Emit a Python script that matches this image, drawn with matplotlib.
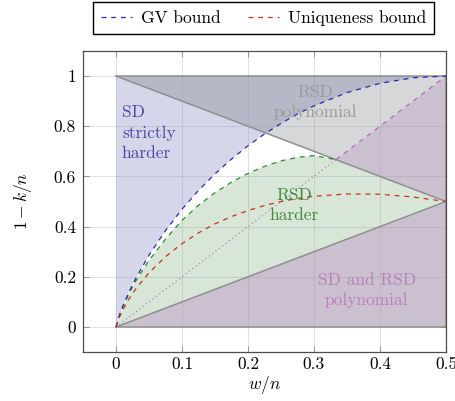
import numpy as np
import matplotlib
matplotlib.use("Agg")
import matplotlib.pyplot as plt
from matplotlib.patches import Polygon

plt.rcParams['font.family'] = ['cmr10', 'DejaVu Serif']
plt.rcParams['mathtext.fontset'] = 'cm'
plt.rcParams['axes.unicode_minus'] = False
plt.rcParams['axes.formatter.use_mathtext'] = True
plt.rcParams['font.size'] = 12.5
plt.rcParams['lines.scale_dashes'] = False

# curves (x = w/n, y = 1 - k/n)
w_n = [0, 0.005, 0.01, 0.02, 0.03, 0.05, 0.075, 0.1, 0.125, 0.15, 0.175,
       0.2, 0.225, 0.25, 0.275, 0.3, 0.35, 0.4, 0.45, 0.5]
gv_bound = [0, 0.045, 0.081, 0.141, 0.194, 0.286, 0.384, 0.469, 0.544, 0.610,
            0.669, 0.722, 0.769, 0.811, 0.849, 0.881, 0.934, 0.971, 0.993, 1.0]
uniq_bound = [0, 0.038, 0.066, 0.113, 0.152, 0.216, 0.280, 0.332, 0.375, 0.411,
              0.440, 0.464, 0.484, 0.500, 0.512, 0.521, 0.530, 0.529, 0.518, 0.5]
rsd_x = [0, 0.005, 0.01, 0.02, 0.03, 0.05, 0.075, 0.1, 0.125, 0.15, 0.175,
         0.2, 0.225, 0.25, 0.275, 0.3, 0.333]
rsd_y = [0, 0.044, 0.078, 0.135, 0.184, 0.265, 0.350, 0.425, 0.485, 0.535, 0.577,
         0.612, 0.640, 0.662, 0.676, 0.683, 0.667]

# region corners
sd_poly_tri = [(0, 0), (0.5, 0), (0.5, 0.5)]
sd_poly_tri2 = [(1/3, 2/3), (0.5, 1), (0.5, 0.5)]
rsd_poly_tri = [(0, 1), (0.5, 1), (1/3, 2/3)]

c_blue = '#d5d6ea'
c_dark = '#b6b8c8'
c_gray = '#d6d7d9'
c_green = '#d8e6d8'
c_purple = '#cbc0d0'

fig = plt.figure(figsize=(4.56, 4.01), dpi=100)
ax = fig.add_axes([0.182, 0.122, 0.796, 0.751])

# blue: above GV bound
blue_pts = list(zip(w_n, gv_bound)) + [(0, 1)]
ax.add_patch(Polygon(blue_pts, closed=True, fc=c_blue, ec='none', zorder=1))
ax.add_patch(Polygon(rsd_poly_tri, closed=True, fc=c_gray, ec='none', zorder=2))
dark = Polygon(blue_pts, closed=True, fc=c_dark, ec='none', zorder=3)
ax.add_patch(dark)
dark.set_clip_path(Polygon(rsd_poly_tri, closed=True, transform=ax.transData))

green_pts = list(zip(rsd_x, rsd_y)) + [(0.5, 0.5)]
ax.add_patch(Polygon(green_pts, closed=True, fc=c_green, ec='none', zorder=2))
ax.add_patch(Polygon(sd_poly_tri, closed=True, fc=c_purple, ec='none', zorder=2))
ax.add_patch(Polygon(sd_poly_tri2, closed=True, fc=c_purple, ec='none', zorder=2))

# grid
for xv in [0, 0.1, 0.2, 0.3, 0.4, 0.5]:
    ax.axvline(xv, color='0.6', lw=0.6, alpha=0.35, zorder=4)
for yv in [0, 0.2, 0.4, 0.6, 0.8, 1]:
    ax.axhline(yv, color='0.6', lw=0.6, alpha=0.35, zorder=4)

# boundaries
gl = dict(color='#8f8f8f', lw=1.1, zorder=5)
ax.plot([0, 0.5], [1, 1], **gl)
ax.plot([0, 0.5], [0, 0], **gl)
ax.plot([0, 0.5], [1, 0.5], **gl)
ax.plot([0, 0.5], [0, 0.5], **gl)
ax.plot([0.5, 0.5], [0, 1], **gl)

ax.plot([0, 1/3], [0, 2/3], color='#b080c0', lw=0.8, dashes=(1, 2), zorder=6)
ax.plot([1/3, 0.5], [2/3, 1], color='#b060c0', lw=0.8, dashes=(3.5, 3.5), zorder=6)
ax.plot(rsd_x, rsd_y, color='#2e8b2e', lw=0.9, dashes=(3.5, 3.5), zorder=6)
l1, = ax.plot(w_n, gv_bound, color='#2a2aa8', lw=0.9, dashes=(3.5, 3.5), zorder=6,
              label='GV bound')
l2, = ax.plot(w_n, uniq_bound, color='#c8321e', lw=0.9, dashes=(3.5, 3.5), zorder=6,
              label='Uniqueness bound')

# labels in the regions
ax.text(0.009, 0.773, 'SD\nstrictly\nharder', color='#4848a8', ha='left', va='center',
        linespacing=1.4, zorder=7)
ax.text(0.302, 0.896, 'RSD\npolynomial', color='#9a9a9a', ha='center', va='center',
        linespacing=1.4, zorder=7)
ax.text(0.27, 0.484, 'RSD\nharder', color='#3f8a3f', ha='center', va='center',
        linespacing=1.4, zorder=7)
ax.text(0.38, 0.147, 'SD and RSD\npolynomial', color='#bb80bb', ha='center', va='center',
        linespacing=1.4, zorder=7)

ax.set_xlim(-0.05, 0.5)
ax.set_ylim(-0.1, 1.1)
ax.set_xticks([0, 0.1, 0.2, 0.3, 0.4, 0.5])
ax.set_xticklabels(['0', '0.1', '0.2', '0.3', '0.4', '0.5'])
ax.set_yticks([0, 0.2, 0.4, 0.6, 0.8, 1])
ax.set_yticklabels(['0', '0.2', '0.4', '0.6', '0.8', '1'])
ax.tick_params(axis='x', direction='in', top=True, length=4, width=0.8,
               color='0.6', pad=3)
ax.tick_params(axis='y', direction='in', right=True, length=4, width=0.8,
               color='0.6', pad=5)
for s in ax.spines.values():
    s.set_color('0.3')
    s.set_linewidth(0.9)
    s.set_zorder(8)
ax.set_xlabel('$w/n$', labelpad=2)
ax.set_ylabel('$1-k/n$', labelpad=14)

fig.legend(handles=[l1, l2], loc='center', bbox_to_anchor=(0.578, 0.955), ncol=2,
           fancybox=False, edgecolor='black', framealpha=1, handlelength=1.8,
           columnspacing=1.6, borderpad=0.45, handletextpad=0.5)

fig.savefig('out.png', dpi=100)
